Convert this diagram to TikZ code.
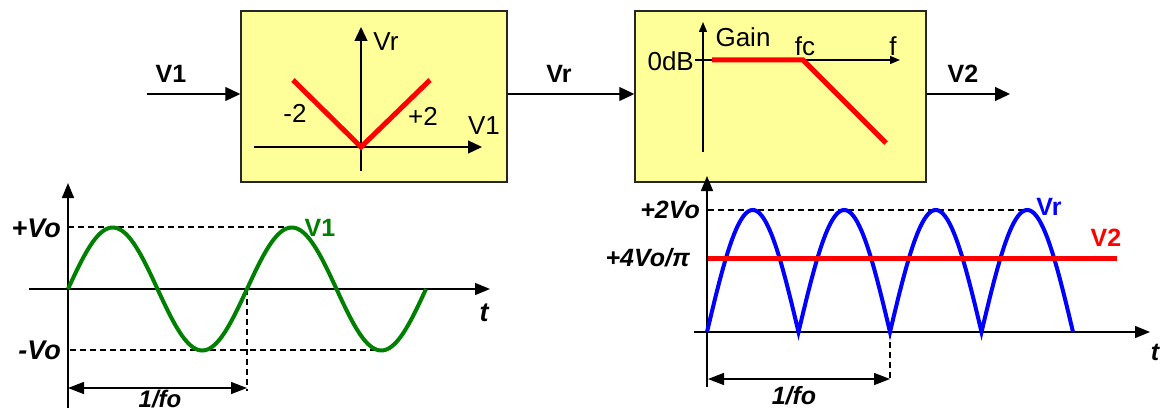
\documentclass[tikz,border=0pt]{standalone}
\usepackage{fontspec}
\setmainfont{Liberation Sans}
\usetikzlibrary{arrows.meta}
\definecolor{boxyellow}{HTML}{FFFF99}
\definecolor{sgreen}{HTML}{008000}
\definecolor{sred}{HTML}{FF0000}
\definecolor{sblue}{HTML}{0000FF}
\begin{document}
\begin{tikzpicture}[x=1pt,y=-1pt,
  block/.style={draw=black!85, line width=1.5pt, fill=boxyellow, minimum width=#1, minimum height=171pt, inner sep=0pt},
  sig/.style={line width=1.3pt, -{Triangle[length=15pt,width=14pt]}},
  ax/.style={line width=1.3pt, -{Triangle[length=14pt,width=13pt]}},
  axs/.style={line width=1.3pt, -{Triangle[length=10pt,width=8pt]}},
  gax/.style={line width=1.4pt, -{Triangle[length=15pt,width=12pt]}},
  dim/.style={line width=1.4pt, {Triangle[length=16pt,width=12pt]}-{Triangle[length=16pt,width=12pt]}},
  dsh/.style={line width=1.2pt, dash pattern=on 6pt off 4pt},
  curve/.style={line width=4pt},
  blab/.style={inner sep=0pt, font=\fontsize{25}{25}\selectfont\bfseries},
  tlab/.style={inner sep=0pt, font=\fontsize{26}{26}\selectfont},
  glab/.style={inner sep=0pt, font=\fontsize{27}{27}\selectfont\bfseries\itshape},
  rlab/.style={inner sep=0pt, font=\fontsize{25}{25}\selectfont\bfseries\itshape}]
\useasboundingbox (0,0) rectangle (1160,412);

% blocks
\node[block=266pt] (b1) at (374,96.5) {};
\node[block=291pt] (b2) at (780.5,96.5) {};
\coordinate (in) at (147,94);
\coordinate (out) at (1010,94);
\draw[sig] (in) -- (in -| b1.west);
\draw[sig] (b1.east |- in) -- (b2.west |- in);
\draw[sig] (b2.east |- in) -- (out);
\node[blab] (lv1) at (171,74) {V1};
\node[blab] (lvr) at (559,74) {Vr};
\node[blab] (lv2) at (963,74) {V2};

% block 1 content
\coordinate (a1b) at (361,171);
\coordinate (a1t) at (361,27);
\coordinate (a1l) at (254,147);
\coordinate (a1r) at (482,147);
\draw[ax] (a1b) -- (a1t);
\draw[ax] (a1l) -- (a1r);
\coordinate (vL) at (293,80);
\coordinate (vO) at (361,147);
\coordinate (vR) at (430,80);
\draw[sred, line width=5pt] (vL) -- (vO) -- (vR);
\node[tlab] (t1vr) at (386,42) {Vr};
\node[tlab] (t1m2) at (295,113) {-2};
\node[tlab] (t1p2) at (423,116) {+2};
\node[tlab] (t1v1) at (484,126) {V1};

% block 2 content
\coordinate (a2b) at (703,152);
\coordinate (a2t) at (703,22);
\coordinate (a2l) at (695,60);
\coordinate (a2r) at (900,60);
\draw[axs] (a2b) -- (a2t);
\draw[axs] (a2l) -- (a2r);
\coordinate (gA) at (712,60);
\coordinate (gB) at (803,60);
\coordinate (gC) at (886,143);
\draw[sred, line width=5pt] (gA) -- (gB) -- (gC);
\node[tlab, anchor=east] (t2db) at (694,61) {0dB};
\node[tlab] (t2g) at (743,37) {Gain};
\node[tlab] (t2fc) at (805,46) {fc};
\node[tlab] (t2f) at (893,46) {f};

% left graph
\coordinate (lyb) at (68,408);
\coordinate (lyt) at (68,183);
\coordinate (lxl) at (29,289);
\coordinate (lxr) at (490,289);
\draw[gax] (lyb) -- (lyt);
\draw[gax] (lxl) -- (lxr);
\draw[dsh] (68,227) -- (292,227);
\draw[dsh] (70,350) -- (390,350);
\draw[dsh] (247,289) -- (247,391);
\draw[sgreen, curve] plot[domain=0:358, samples=180, smooth] ({68+\x},{289-61.5*sin(\x/179*360)});
\coordinate (ld1) at (68,388);
\coordinate (ld2) at (247,388);
\draw[dim] (ld1) -- (ld2);
\node[glab, anchor=east] (lvo) at (61,228) {+Vo};
\node[glab, anchor=east] (lmvo) at (61,350) {-Vo};
\node[glab, anchor=base, font=\fontsize{24}{24}\selectfont\bfseries\itshape] (lfo) at (160,407.5) {1/fo};
\node[glab] (lt) at (484,313) {t};
\node[blab, text=sgreen] (lgv1) at (320,228) {V1};

% right graph
\coordinate (ryb) at (707,387);
\coordinate (ryt) at (707,176);
\coordinate (rxl) at (694,332);
\coordinate (rxr) at (1150,332);
\draw[gax] (ryb) -- (ryt);
\draw[gax] (rxl) -- (rxr);
\draw[dsh] (708,210) -- (1028,210);
\draw[dsh] (890,332) -- (890,381);
\draw[sblue, curve] plot[domain=0:366, samples=241] ({707+\x},{332-122*abs(sin(\x/91.5*180))});
\coordinate (rl1) at (708,258);
\coordinate (rl2) at (1117,258);
\draw[sred, line width=5pt] (rl1) -- (rl2);
\coordinate (rd1) at (708,379);
\coordinate (rd2) at (890,379);
\draw[dim] (rd1) -- (rd2);
\node[rlab, anchor=east] (r2vo) at (700,210) {+2Vo};
\node[rlab, anchor=east] (r4vo) at (690,258) {+4Vo/π};
\node[rlab, anchor=base] (rfo) at (794,404) {1/fo};
\node[rlab] (rt) at (1155,352) {t};
\node[blab, text=sblue] (rvr) at (1049,207) {Vr};
\node[blab, text=sred] (rv2) at (1106,238) {V2};
\end{tikzpicture}
\end{document}
